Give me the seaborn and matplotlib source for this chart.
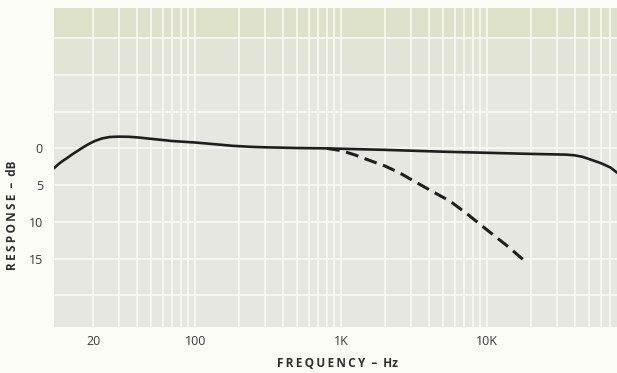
import matplotlib
matplotlib.use("Agg")
import matplotlib.pyplot as plt
import matplotlib.ticker as mticker
import pandas as pd
import seaborn as sns

# frequency response (dB, positive = attenuation)
solid_freq = [10.8, 11.5, 12.3, 13.3, 14.3, 15.5, 16.8, 18.5, 20.5, 23, 26, 30,
              35, 40, 50, 70, 100, 140, 180, 250, 300, 500, 800, 1000, 2000,
              5000, 10000, 20000, 35000, 40000, 45000, 50000, 60000, 70000, 77600]
solid_db = [2.7, 2.2, 1.75, 1.3, 0.85, 0.4, -0.05, -0.55, -1.0, -1.35, -1.55,
            -1.6, -1.58, -1.5, -1.3, -1.0, -0.8, -0.55, -0.35, -0.2, -0.15,
            -0.05, 0.0, 0.05, 0.2, 0.45, 0.6, 0.75, 0.85, 0.95, 1.15, 1.45,
            2.0, 2.6, 3.3]

dashed_freq = [800, 1000, 1250, 1500, 2000, 2500, 3000, 4000, 5600, 7500,
               10000, 14000, 18800]
dashed_db = [0.0, 0.3, 0.9, 1.5, 2.4, 3.3, 4.2, 5.6, 7.2, 9.1, 11.1, 13.4, 15.6]

x_ticks = [20, 100, 1000, 10000]
x_tick_labels = ["20", "100", "1K", "10K"]
y_ticks = [0, 5, 10, 15]
y_grid_extra = [-15, -10, -5, 20]


def spaced(text):
    # crude letter spacing with thin spaces
    return "\u2009".join(text)


sns.set_style("white", {"axes.facecolor": "#e6e7e0"})
plt.rcParams["font.family"] = ["Open Sans", "DejaVu Sans"]

solid = pd.DataFrame({"freq": solid_freq, "db": solid_db})
dashed = pd.DataFrame({"freq": dashed_freq, "db": dashed_db})

fig = plt.figure(figsize=(6.17, 3.73), dpi=100, facecolor="#fdfdf8")
ax = fig.add_axes([54 / 617, 46 / 373, 563 / 617, 319 / 373])

ax.set_xscale("log")
ax.set_xlim(10.8, 77600)
ax.set_ylim(24.3, -19.1)

# paper tint, a little greener towards the top
ax.axhspan(-19.1, -15, color="#dee2ca", zorder=0, lw=0)
ax.axhspan(-15, -10, color="#e2e5d6", zorder=0, lw=0)

sns.lineplot(data=solid, x="freq", y="db", ax=ax, color="#1e1e1e", lw=1.9,
             zorder=5, sort=False)
sns.lineplot(data=dashed, x="freq", y="db", ax=ax, color="#1e1e1e", lw=2.2,
             zorder=5, sort=False, linestyle=(0, (4.2, 2.2)))

ax.xaxis.set_major_locator(mticker.FixedLocator(x_ticks))
ax.xaxis.set_major_formatter(mticker.FixedFormatter(x_tick_labels))
ax.xaxis.set_minor_locator(mticker.LogLocator(base=10, subs=range(1, 10), numticks=20))
ax.xaxis.set_minor_formatter(mticker.NullFormatter())
ax.yaxis.set_major_locator(mticker.FixedLocator(y_ticks))
ax.yaxis.set_minor_locator(mticker.FixedLocator(y_grid_extra))

ax.grid(True, which="both", color="#f8f8f2", lw=1.3, zorder=1)
ax.set_axisbelow(True)
ax.tick_params(which="both", length=0)
ax.tick_params(axis="x", pad=6, labelsize=9, labelcolor="#3a3a3a")
ax.tick_params(axis="y", pad=8, labelsize=9, labelcolor="#3a3a3a")
for s in ax.spines.values():
    s.set_visible(False)

ax.set_xlabel(spaced("FREQUENCY") + "  \u2013  Hz", fontsize=8.5,
              fontweight="bold", color="#2e2e2e")
ax.set_ylabel(spaced("RESPONSE") + "  \u2013  dB", fontsize=8.5,
              fontweight="bold", color="#2e2e2e")
ax.xaxis.set_label_coords(0.503, -0.113)
ax.xaxis.label.set_va("center")
ax.yaxis.set_label_coords(-0.073, 0.351)
ax.yaxis.label.set_va("center")

fig.savefig("out.png", dpi=100, facecolor=fig.get_facecolor())
